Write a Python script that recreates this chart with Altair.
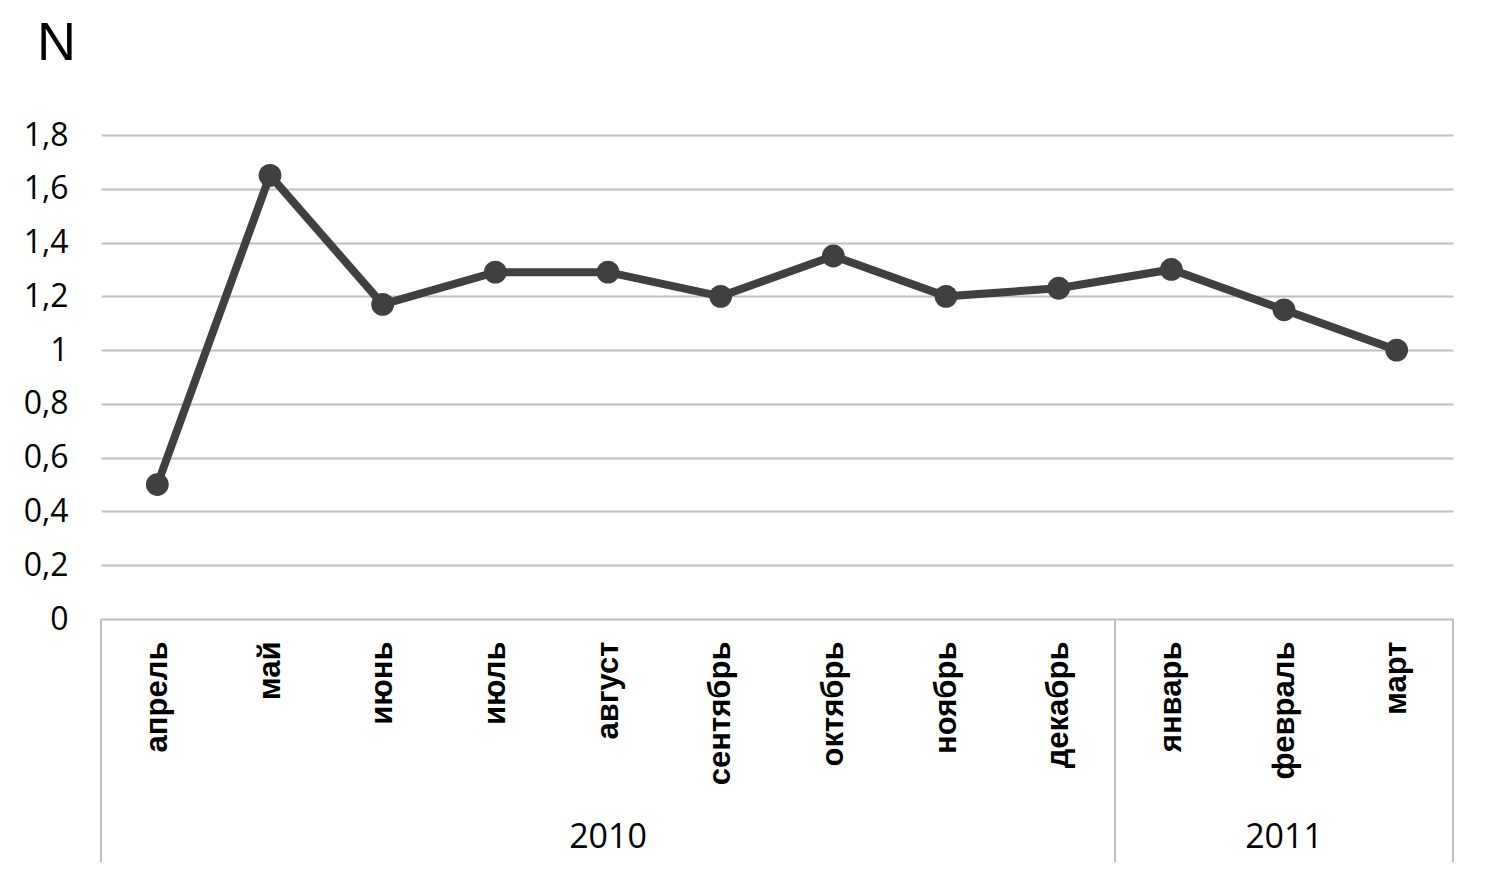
import json
import altair as alt
import pandas as pd

months = ["апрель", "май", "июнь", "июль", "август", "сентябрь",
          "октябрь", "ноябрь", "декабрь", "январь", "февраль", "март"]
values = [0.5, 1.65, 1.17, 1.29, 1.29, 1.2, 1.35, 1.2, 1.23, 1.3, 1.15, 1.0]
years = ["2010", "2011"]
year_first = [0, 9]
year_last = [8, 11]
y_ticks = [0, 0.2, 0.4, 0.6, 0.8, 1.0, 1.2, 1.4, 1.6, 1.8]

df = pd.DataFrame({"i": list(range(len(months))), "month": months, "N": values})
df_years = pd.DataFrame({
    "year": years,
    "mid": [(a + b) / 2 for a, b in zip(year_first, year_last)],
})
bounds = [year_first[0] - 0.5] + [b + 0.5 for b in year_last]
df_bounds = pd.DataFrame({"b": bounds})

W, H = 1352, 484
LINE = "#404040"
GRID = "#bfbfbf"

xscale = alt.Scale(domain=[-0.5, len(months) - 0.5], nice=False, zero=False)
label_expr = json.dumps(months, ensure_ascii=False) + "[datum.value]"

x_axis = alt.Axis(
    values=list(range(len(months))), labelExpr=label_expr, labelAngle=-90,
    labelFont="Liberation Sans", labelFontWeight="bold", labelFontSize=31,
    labelColor="#000000", labelPadding=22, ticks=False, domain=False,
    grid=False, title=None, labelOverlap=False, labelFlush=False,
)
y_axis = alt.Axis(
    values=y_ticks, labelExpr="replace(format(datum.value, '.1~f'), '.', ',')",
    labelFont="Open Sans", labelFontSize=32, labelColor="#000000",
    labelPadding=33, ticks=False, domain=False, grid=True,
    gridColor=GRID, gridWidth=2, title=None,
)

base = alt.Chart(df)
line = base.mark_line(color=LINE, strokeWidth=8).encode(
    x=alt.X("i:Q", scale=xscale, axis=x_axis),
    y=alt.Y("N:Q", scale=alt.Scale(domain=[0, 1.8], nice=False), axis=y_axis),
)
points = base.mark_point(filled=True, color=LINE, size=520, opacity=1).encode(
    x=alt.X("i:Q", scale=xscale),
    y=alt.Y("N:Q"),
)
rules = alt.Chart(df_bounds).mark_rule(color=GRID, strokeWidth=2).encode(
    x=alt.X("b:Q", scale=xscale),
    y=alt.value(H),
    y2=alt.value(H + 243),
)
year_text = alt.Chart(df_years).mark_text(
    font="Open Sans", fontSize=34, color="#000000", baseline="middle"
).encode(
    x=alt.X("mid:Q", scale=xscale),
    y=alt.value(H + 219),
    text="year:N",
)

chart = alt.layer(rules, line, points, year_text).properties(
    width=W, height=H,
    title=alt.TitleParams("N", anchor="start", frame="group", fontSize=54,
                          font="Liberation Sans", fontWeight="normal",
                          color="#000000", dx=-64, offset=48),
    autosize=alt.AutoSizeParams(type="none"),
    padding={"left": 93, "top": 127, "right": 30, "bottom": 245},
    background="white",
).configure_view(strokeWidth=0, stroke=None)

chart.save("out.html", embed_options={"renderer": "svg", "actions": False})
